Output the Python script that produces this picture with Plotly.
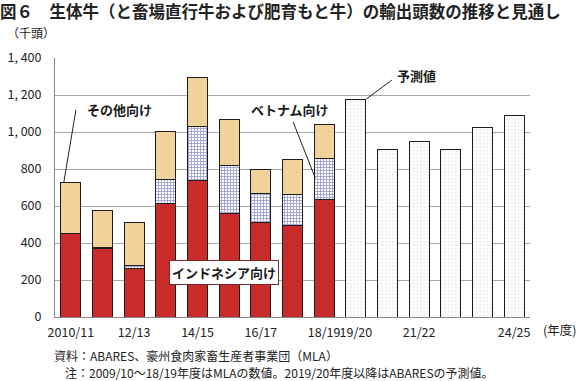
import plotly.graph_objects as go

seasons = ["2010/11", "11/12", "12/13", "13/14", "14/15", "15/16", "16/17", "17/18",
           "18/19", "19/20", "20/21", "21/22", "22/23", "23/24", "24/25"]
tick_labels = ["2010/11", "", "12/13", "", "14/15", "", "16/17", "",
               "18/19", "19/20", "", "21/22", "", "", "24/25"]
actual_seasons = seasons[:9]
forecast_seasons = seasons[9:]
indonesia = [452, 368, 263, 615, 739, 557, 512, 496, 636]
vietnam = [0, 8, 17, 127, 293, 263, 157, 167, 222]
other = [276, 201, 232, 263, 264, 249, 126, 186, 184]
forecast = [1177, 903, 951, 903, 1025, 1090]

FONT = "Noto Sans CJK JP"
OUT = "#1e1e1e"
idx = {s: i for i, s in enumerate(seasons)}
xa = [idx[s] for s in actual_seasons]
xf = [idx[s] for s in forecast_seasons]

fig = go.Figure()
fig.add_bar(x=xa, y=indonesia, name="インドネシア向け",
            marker=dict(color="#C92A2A", line=dict(color=OUT, width=1)))
fig.add_bar(x=xa, y=vietnam, name="ベトナム向け",
            marker=dict(color="#FFFFFF", line=dict(color=OUT, width=1),
                        pattern=dict(shape="+", fgcolor="#4040A8", bgcolor="#FFFFFF",
                                     size=3, solidity=0.5)))
fig.add_bar(x=xa, y=other, name="その他向け",
            marker=dict(color="#F2D39C", line=dict(color=OUT, width=1),
                        pattern=dict(shape=".", fgcolor="#E8C88E", bgcolor="#F2D39C",
                                     size=4, solidity=0.2)))
fig.add_bar(x=xf, y=forecast, name="予測値",
            marker=dict(color="#FFFFFF", line=dict(color=OUT, width=1),
                        pattern=dict(shape=".", fgcolor="#CCDBD5", bgcolor="#FFFFFF",
                                     size=3.5, solidity=0.3)))

fig.update_layout(
    barmode="stack", bargap=0.37, showlegend=False,
    width=584, height=381,
    margin=dict(l=55, r=54, t=58, b=64, autoexpand=False),
    paper_bgcolor="white", plot_bgcolor="white",
    font=dict(family=FONT, color="#222222", size=12),
    title=dict(text="<b>図６　生体牛（と畜場直行牛および肥育もと牛）の輸出頭数の推移と見通し</b>",
               x=0.0, xanchor="left", xref="container", y=0.968, yanchor="middle",
               yref="container", font=dict(family=FONT, size=16.5, color="#222222")),
    xaxis=dict(range=[-0.5, 14.5], tickmode="array", tickvals=list(range(len(seasons))),
               ticktext=tick_labels, showgrid=False, ticks="", showline=True,
               linecolor="#888888", linewidth=1, tickfont=dict(size=12.5),
               tickangle=0, automargin=False, ticklabelstandoff=4),
    yaxis=dict(range=[0, 1400], tickmode="array",
               tickvals=[0, 200, 400, 600, 800, 1000, 1200, 1400],
               ticktext=["0", "200", "400", "600", "800", "1, 000", "1, 200", "1, 400"],
               showgrid=True, gridcolor="#A8A8A8", gridwidth=1, showline=True,
               linecolor="#888888", linewidth=1, ticks="", zeroline=False,
               automargin=False, tickfont=dict(size=12.5), ticklabelstandoff=10),
)

line_style = dict(color="#222222", width=1)
fig.add_shape(type="line", xref="x", yref="y", x0=0.16, y0=1119, x1=-0.22, y1=730, line=line_style)
fig.add_shape(type="line", xref="x", yref="y", x0=7.02, y0=1054, x1=7.72, y1=751, line=line_style)
fig.add_shape(type="line", xref="x", yref="y", x0=10.14, y0=1281, x1=9.33, y1=1178, line=line_style)

lab = dict(family=FONT, size=13, color="#1a1a1a")
fig.add_annotation(x=1.55, y=1119, xref="x", yref="y", text="<b>その他向け</b>", showarrow=False, font=lab)
fig.add_annotation(x=6.92, y=1119, xref="x", yref="y", text="<b>ベトナム向け</b>", showarrow=False, font=lab)
fig.add_annotation(x=10.9, y=1308, xref="x", yref="y", text="<b>予測値</b>", showarrow=False, font=lab)
fig.add_annotation(x=4.84, y=238, xref="x", yref="y", text="<b>インドネシア向け</b>", showarrow=False,
                   font=lab, bgcolor="white", bordercolor="#7a2a2a", borderwidth=1, borderpad=2)

fig.add_annotation(x=-0.105, y=1.097, xref="paper", yref="paper", text="（千頭）", showarrow=False,
                   xanchor="left", yanchor="middle", font=dict(family=FONT, size=12))
fig.add_annotation(x=1.023, y=-0.05, xref="paper", yref="paper", text="(年度)", showarrow=False,
                   xanchor="left", yanchor="middle", font=dict(family=FONT, size=12.5))
fig.add_annotation(x=-0.006, y=-0.147, xref="paper", yref="paper",
                   text="資料：ABARES、豪州食肉家畜生産者事業団（MLA）", showarrow=False,
                   xanchor="left", yanchor="middle", font=dict(family=FONT, size=12))
fig.add_annotation(x=0.017, y=-0.216, xref="paper", yref="paper",
                   text="注：2009/10～18/19年度はMLAの数値。2019/20年度以降はABARESの予測値。",
                   showarrow=False, xanchor="left", yanchor="middle", font=dict(family=FONT, size=12))

fig.write_html("out.html", config={"displayModeBar": False},
               post_script="document.body.style.margin='0px';document.body.style.overflow='hidden';")
